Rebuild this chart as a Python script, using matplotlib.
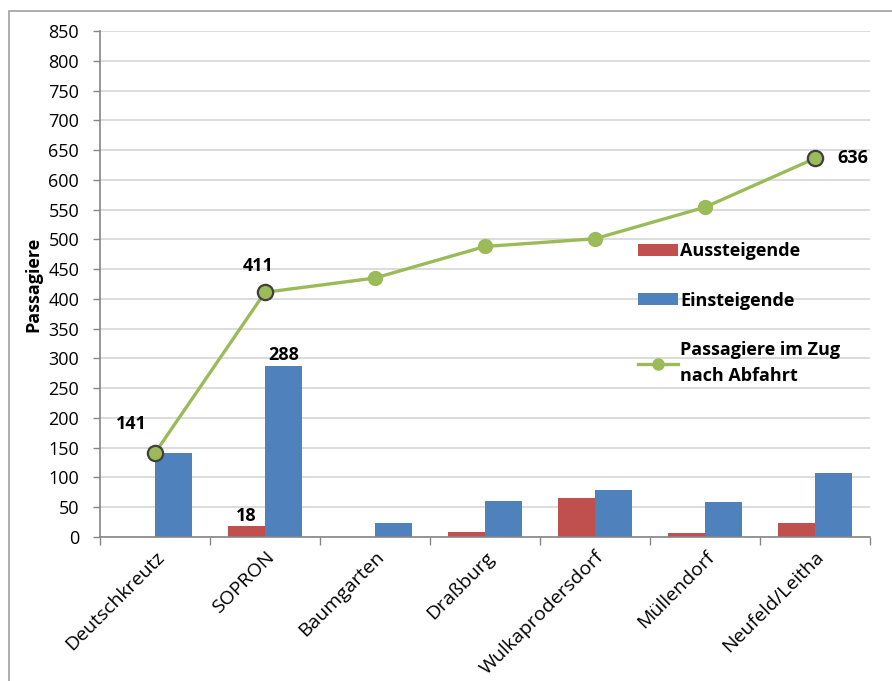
import numpy as np
import matplotlib.pyplot as plt
from matplotlib.patches import Patch, Rectangle
from matplotlib.lines import Line2D

stations = ["Deutschkreutz", "SOPRON", "Baumgarten", "Draßburg",
            "Wulkaprodersdorf", "Müllendorf", "Neufeld/Leitha"]
aussteigende = [0, 18, 0, 8, 66, 6, 24]
einsteigende = [141, 288, 24, 61, 79, 59, 108]
im_zug = [141, 411, 435, 488, 501, 554, 636]

# which points get a value label and where it sits (offset in points)
line_labels = {0: (-17, 21), 1: (-5, 19), 6: (27, 0)}
bar_labels = {("aus", 1): 18, ("ein", 1): 288}

RED = "#C0504D"
BLUE = "#4F81BD"
GREEN = "#9BBB59"
GRID = "#D9D9D9"
AXIS = "#868686"
FS = 13

plt.rcParams["font.family"] = ["Open Sans", "DejaVu Sans"]

fig = plt.figure(figsize=(8.92, 6.81), dpi=100)
ax = fig.add_axes([0.1121, 0.2115, 0.8632, 0.743])

# thin frame round the whole chart
fig.patches.append(Rectangle((9 / 892, -0.05), 1.0, 1.05 - 11 / 681,
                             transform=fig.transFigure, fill=False,
                             edgecolor="#A0A0A0", linewidth=1.2))

x = np.arange(len(stations))
w = 1 / 3
ax.bar(x - w / 2, aussteigende, width=w, color=RED, zorder=2)
ax.bar(x + w / 2, einsteigende, width=w, color=BLUE, zorder=2)

ax.plot(x, im_zug, color=GREEN, linewidth=2.4, marker="o", markersize=10,
        markerfacecolor=GREEN, markeredgecolor=GREEN, zorder=3)
idx = list(line_labels)
ax.plot(x[idx], [im_zug[i] for i in idx], linestyle="none", marker="o",
        markersize=11, markerfacecolor=GREEN, markeredgecolor="#404040",
        markeredgewidth=1.6, zorder=4)

for i, (dx, dy) in line_labels.items():
    ax.annotate(str(im_zug[i]), (x[i], im_zug[i]), xytext=(dx, dy),
                textcoords="offset points", ha="center", va="center",
                fontsize=FS, fontweight="bold", zorder=5)

for (series, i), val in bar_labels.items():
    xpos = x[i] - w / 2 if series == "aus" else x[i] + w / 2
    ax.annotate(str(val), (xpos, val), xytext=(0, 1),
                textcoords="offset points", ha="center", va="bottom",
                fontsize=FS, fontweight="bold", zorder=5)

ax.set_xlim(-0.5, len(stations) - 0.5)
ax.set_ylim(0, 850)
ax.set_yticks(np.arange(0, 851, 50))
ax.yaxis.grid(True, color=GRID, linewidth=1.3, zorder=0)
ax.set_axisbelow(True)

ax.set_xticks(x)
ax.set_xticklabels(stations, rotation=45, ha="right", rotation_mode="anchor",
                   fontsize=14)
ax.set_xticks(np.arange(-0.5, len(stations)), minor=True)
ax.tick_params(axis="x", which="major", length=0, pad=8)
ax.tick_params(axis="x", which="minor", length=6, color=AXIS, width=1)
ax.tick_params(axis="y", length=5, color=AXIS, width=1, labelsize=FS, pad=10)

for side in ("top", "right"):
    ax.spines[side].set_visible(False)
for side in ("left", "bottom"):
    ax.spines[side].set_color(AXIS)
    ax.spines[side].set_linewidth(1.2)

ax.set_ylabel("Passagiere", fontsize=FS, fontweight="bold", labelpad=4)

handles = [
    Patch(facecolor=RED, label="Aussteigende"),
    Patch(facecolor=BLUE, label="Einsteigende"),
    Line2D([], [], color=GREEN, linewidth=2.4, marker="o", markersize=8,
           label="Passagiere im Zug\nnach Abfahrt"),
]
leg = ax.legend(handles=handles, loc="upper left",
                bbox_to_anchor=(629 / 892, 1 - 233 / 681),
                bbox_transform=fig.transFigure, frameon=False,
                prop={"weight": "bold", "size": FS}, borderpad=0,
                handlelength=2.2, handleheight=0.65, handletextpad=0.15,
                labelspacing=1.75)
for t in leg.get_texts():
    t.set_linespacing(1.55)

fig.savefig("out.png", dpi=100)
